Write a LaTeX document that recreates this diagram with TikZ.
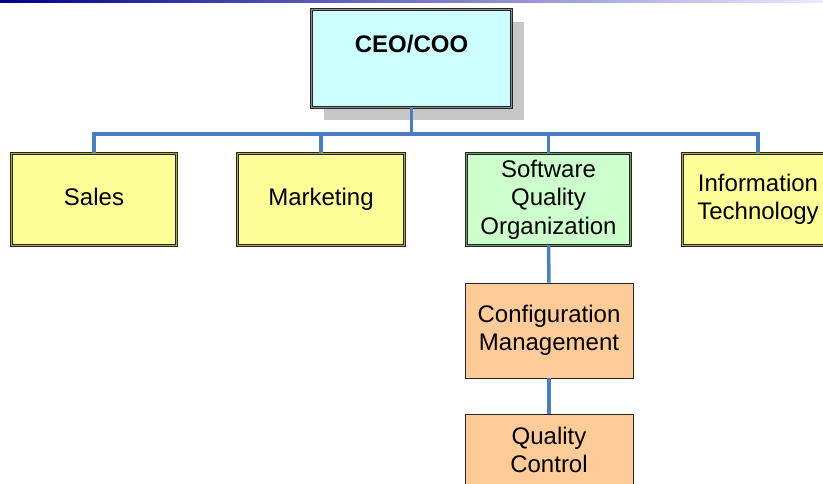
\documentclass[tikz,border=0pt]{standalone}
\usepackage{fontspec}
\setmainfont{Liberation Sans}
\usetikzlibrary{shadows}
\definecolor{linkblue}{HTML}{4A7EC0}
\definecolor{ceofill}{HTML}{CCFFFF}
\definecolor{deptfill}{HTML}{FFFF99}
\definecolor{sqofill}{HTML}{CCFFCC}
\definecolor{subfill}{HTML}{FFCC99}
\begin{document}
\begin{tikzpicture}[x=1pt, y=-1pt,
  unit/.style={draw=black!85, double distance=1.4pt, line width=0.6pt, align=center,
    font=\fontsize{24}{28.5}\selectfont, inner sep=0pt},
  subunit/.style={draw=black!85, line width=0.8pt, fill=subfill, align=center,
    font=\fontsize{24}{28.5}\selectfont, inner sep=0pt, minimum width=168pt},
  link/.style={linkblue, line width=3.5pt}]
  \useasboundingbox (0,0) rectangle (823,483);

  % Top rule
  \shade[left color=blue!55!black, right color=blue!8] (0,0) rectangle (823,2);

  % Head of the organisation
  \node[unit, double=black!45, fill=ceofill, minimum width=200pt, minimum height=98pt,
    drop shadow={shadow xshift=12pt, shadow yshift=-12pt, fill=black!22, opacity=1}]
    (ceo) at (411.5,58.5) {\textbf{CEO/COO}\\ \mbox{}};

  % Departments
  \node[unit, double=olive!70, fill=deptfill, minimum width=165pt, minimum height=92pt]
    (sales) at (94,199.5) {Sales\vphantom{g}};
  \node[unit, double=olive!70, fill=deptfill, minimum width=167pt, minimum height=92pt]
    (marketing) at (321,199.5) {Marketing};
  \node[unit, double=green!35!black!60, fill=sqofill, minimum width=164pt, minimum height=92pt]
    (sqo) at (548.5,199.5) {Software\\Quality\\Organization};
  \node[unit, double=olive!70, fill=deptfill, minimum width=151pt, minimum height=92pt]
    (it) at (758,199.5) {Information\\Technology};

  % Sub-units of the quality organisation
  \node[subunit, minimum height=95pt] (config) at (549,330.5) {Configuration\\Management};
  \node[subunit, minimum height=72pt] (qc) at (549,450) {Quality\\Control};

  % Connectors
  \coordinate (bus) at (411.5,134);
  \draw[link] (ceo.south) -- (bus);
  \draw[link] (sales.north) |- (bus) -| (it.north);
  \draw[link] (marketing.north) -- (marketing.north |- bus);
  \draw[link] (sqo.north) -- (sqo.north |- bus);
  \draw[link] (sqo.south) -- (config.north);
  \draw[link] (config.south) -- (qc.north);

\end{tikzpicture}
\end{document}
